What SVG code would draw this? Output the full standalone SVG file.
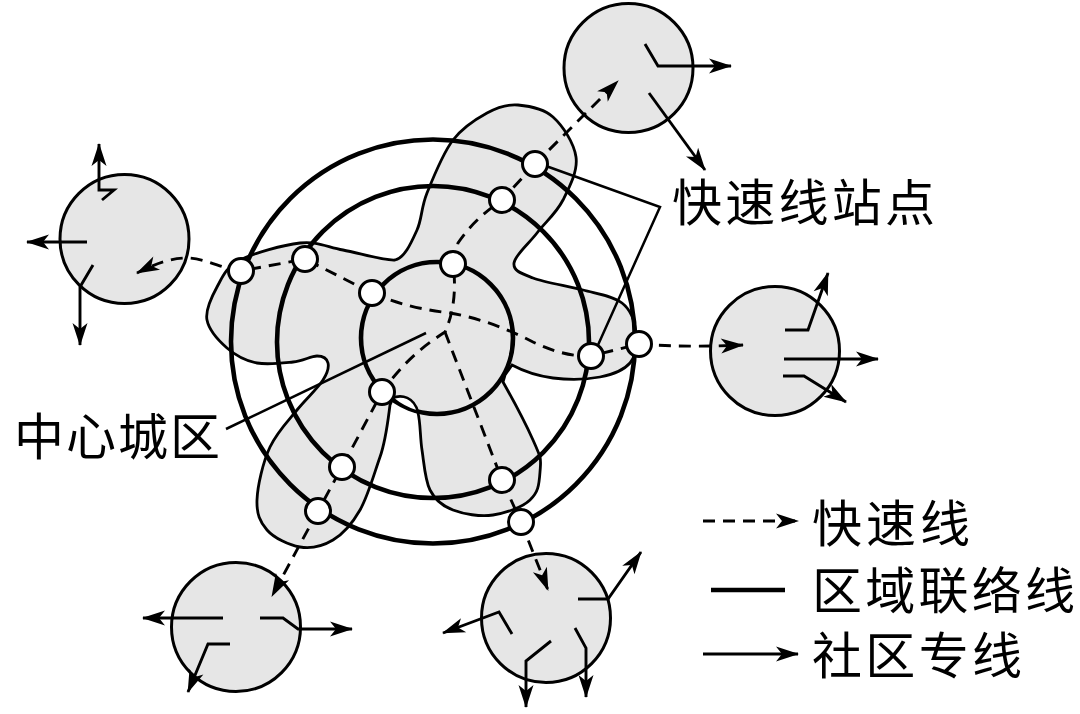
<svg xmlns="http://www.w3.org/2000/svg" width="1080" height="714" viewBox="0 0 1080 714">
<style>
.f{fill:#e6e6e6;stroke:#000}
.sat{stroke-width:3}
.ring{fill:none;stroke:#000;stroke-width:4.6}
.ln{fill:none;stroke:#000;stroke-width:2.9}
.a{marker-end:url(#ah)}
.d{stroke-dasharray:12 8}
.lead{fill:none;stroke:#000;stroke-width:2.5}
.st{fill:#fff;stroke:#000;stroke-width:3}
text{font-family:"Noto Sans CJK SC","Noto Sans",sans-serif;font-size:50px;fill:#000}
</style>
<defs>
<marker id="ah" markerUnits="userSpaceOnUse" markerWidth="26" markerHeight="20" refX="21" refY="8" orient="auto" overflow="visible">
<path d="M-1,0.5 L22,8 L-1,15.5 L5,8 Z" fill="#000"/>
</marker>
</defs>
<rect width="1080" height="714" fill="#fff"/>
<g id="region-blob">
<path class="f" stroke-width="2.8" d="M518,105 C529,106 543,108 553,117 S574,143 576,157 S569.5,187 563,200 S545,222.5 537,233 S515,255 514,263 S521.5,273.5 533,278 S568,286 583,290 S613,296 622,303 S635,323 636,333 S636,356 630,363 S613,374.5 600,377 S568,380 553,378 S525,372 512,365 L505,375 L503,382 C512,398 524,420 533,440 S541,458 540,472 S538,492.5 530,500 S506,513 493,515 S463.5,514 453,510 S435,500 430,490 S424,463 422,450 S420.5,422 418,413 S411,400.5 407,398 S399,396 393,398 L390,405 C388,420 386,440 380,457 S368,496 360,510 S343,534 333,540 S311,548.7 300,547 S274,538 267,530 S256.5,514 257,500 S263,462 270,447 S288,421 297,410 S318,388 323,380 S329,367 328,363 S323,356 317,356 S303,361 293,362 S268,365 257,363 S235,355 227,348 S209,330 207,320 S211.5,297 217,287 S226,267 240,260 S283,245 300,243 S327,247 343,250 S385,261 395,260 C405,258 412,241 417,230 S421,208 427,193 S443,153 453,140 S476,119 487,113 S507,104 518,105 Z"/>
</g>
<g id="central-district">
<circle class="f" stroke-width="4.6" cx="437" cy="338" r="76"/>
<path d="M392,398 C402,394 414,397 418,412 Q404,408 392,398 Z" fill="#fff" stroke="#000" stroke-width="2.6"/>
</g>
<g id="community-top"><circle class="f sat" cx="628.5" cy="68" r="64.5"/></g>
<g id="community-left"><circle class="f sat" cx="124.5" cy="239" r="64.5"/></g>
<g id="community-right"><circle class="f sat" cx="775" cy="351" r="64.5"/></g>
<g id="community-bottom-left"><circle class="f sat" cx="236" cy="627" r="64.5"/></g>
<g id="community-bottom-right"><circle class="f sat" cx="546" cy="618" r="64.5"/></g>
<g id="regional-rings">
<circle class="ring" cx="433" cy="341.5" r="202"/>
<circle class="ring" cx="433" cy="342" r="156"/>
</g>
<g id="connectors">
<path class="ln d" d="M535,164 L502,200 C485,212 470,225 458,243 L453,264 C456,285 455,310 445,332 C425,345 405,360 382,392 L342,467 L318,511"/>
<path class="ln d a" d="M535,164 L618,81"/>
<path class="ln d" d="M445,332 L502,480 L521,522"/>
<path class="ln d a" d="M521,522 L548,590"/>
<path class="ln d a" d="M318,511 L272,596"/>
<path class="ln d" d="M372,293 C400,305 425,310 450,313 C480,318 510,330 533,342 C550,350 570,357 591,356 L639,344"/>
<path class="ln d" d="M372,293 L305,259 L241,271"/>
<path class="ln d a" d="M241,271 C225,270 205,258 187,258 C170,258 155,264 137,273"/>
<path class="ln d a" d="M639,344 C660,346 700,347 743,345"/>
<path class="ln a" d="M645,44 L658,66 L731,66"/>
<path class="ln a" d="M649,93 L705,170"/>
<path class="ln a" d="M102,200 L114,190 L99,190 L99,144"/>
<path class="ln a" d="M87,242 L27,242"/>
<path class="ln a" d="M93,265 L80,287 L80,345"/>
<path class="ln a" d="M785,330 L808,330 L828,273"/>
<path class="ln a" d="M784,359 L878,359"/>
<path class="ln a" d="M783,376 L804,376 L846,402"/>
<path class="ln a" d="M223,618 L143,618"/>
<path class="ln a" d="M260,618 L283,618 L298,629 L352,629"/>
<path class="ln a" d="M230,644 L208,644 L188,692"/>
<path class="ln a" d="M578,599 L608,599 L641,552"/>
<path class="ln a" d="M512,634 L499,612 L443,633"/>
<path class="ln a" d="M551,641 L526,661 L526,707"/>
<path class="ln a" d="M575,628 L586,648 L586,697"/>
<path class="lead" d="M546,166 L660,207 L598,345"/>
<path class="lead" d="M226,429 L426,333"/>
<path class="ln d a" d="M703,521 L798,521"/>
<path class="ring" d="M711,590 L785,590"/>
<path class="ln a" d="M703,654 L798,654"/>
</g>
<g id="stations">
<circle class="st" cx="535" cy="164" r="12.5"/>
<circle class="st" cx="502" cy="200" r="12.5"/>
<circle class="st" cx="453" cy="264" r="12.5"/>
<circle class="st" cx="372" cy="293" r="12.5"/>
<circle class="st" cx="305" cy="259" r="12.5"/>
<circle class="st" cx="241" cy="271" r="12.5"/>
<circle class="st" cx="591" cy="356" r="12.5"/>
<circle class="st" cx="639" cy="344" r="12.5"/>
<circle class="st" cx="382" cy="392" r="12.5"/>
<circle class="st" cx="342" cy="467" r="12.5"/>
<circle class="st" cx="318" cy="511" r="12.5"/>
<circle class="st" cx="502" cy="480" r="12.5"/>
<circle class="st" cx="521" cy="522" r="12.5"/>
</g>
<g id="labels">
<text x="672" y="221" textLength="263">快速线站点</text>
<text x="14" y="455" textLength="206">中心城区</text>
<text x="812" y="542" textLength="158">快速线</text>
<text x="812" y="609" textLength="263">区域联络线</text>
<text x="812" y="674" textLength="210">社区专线</text>
</g>
</svg>
